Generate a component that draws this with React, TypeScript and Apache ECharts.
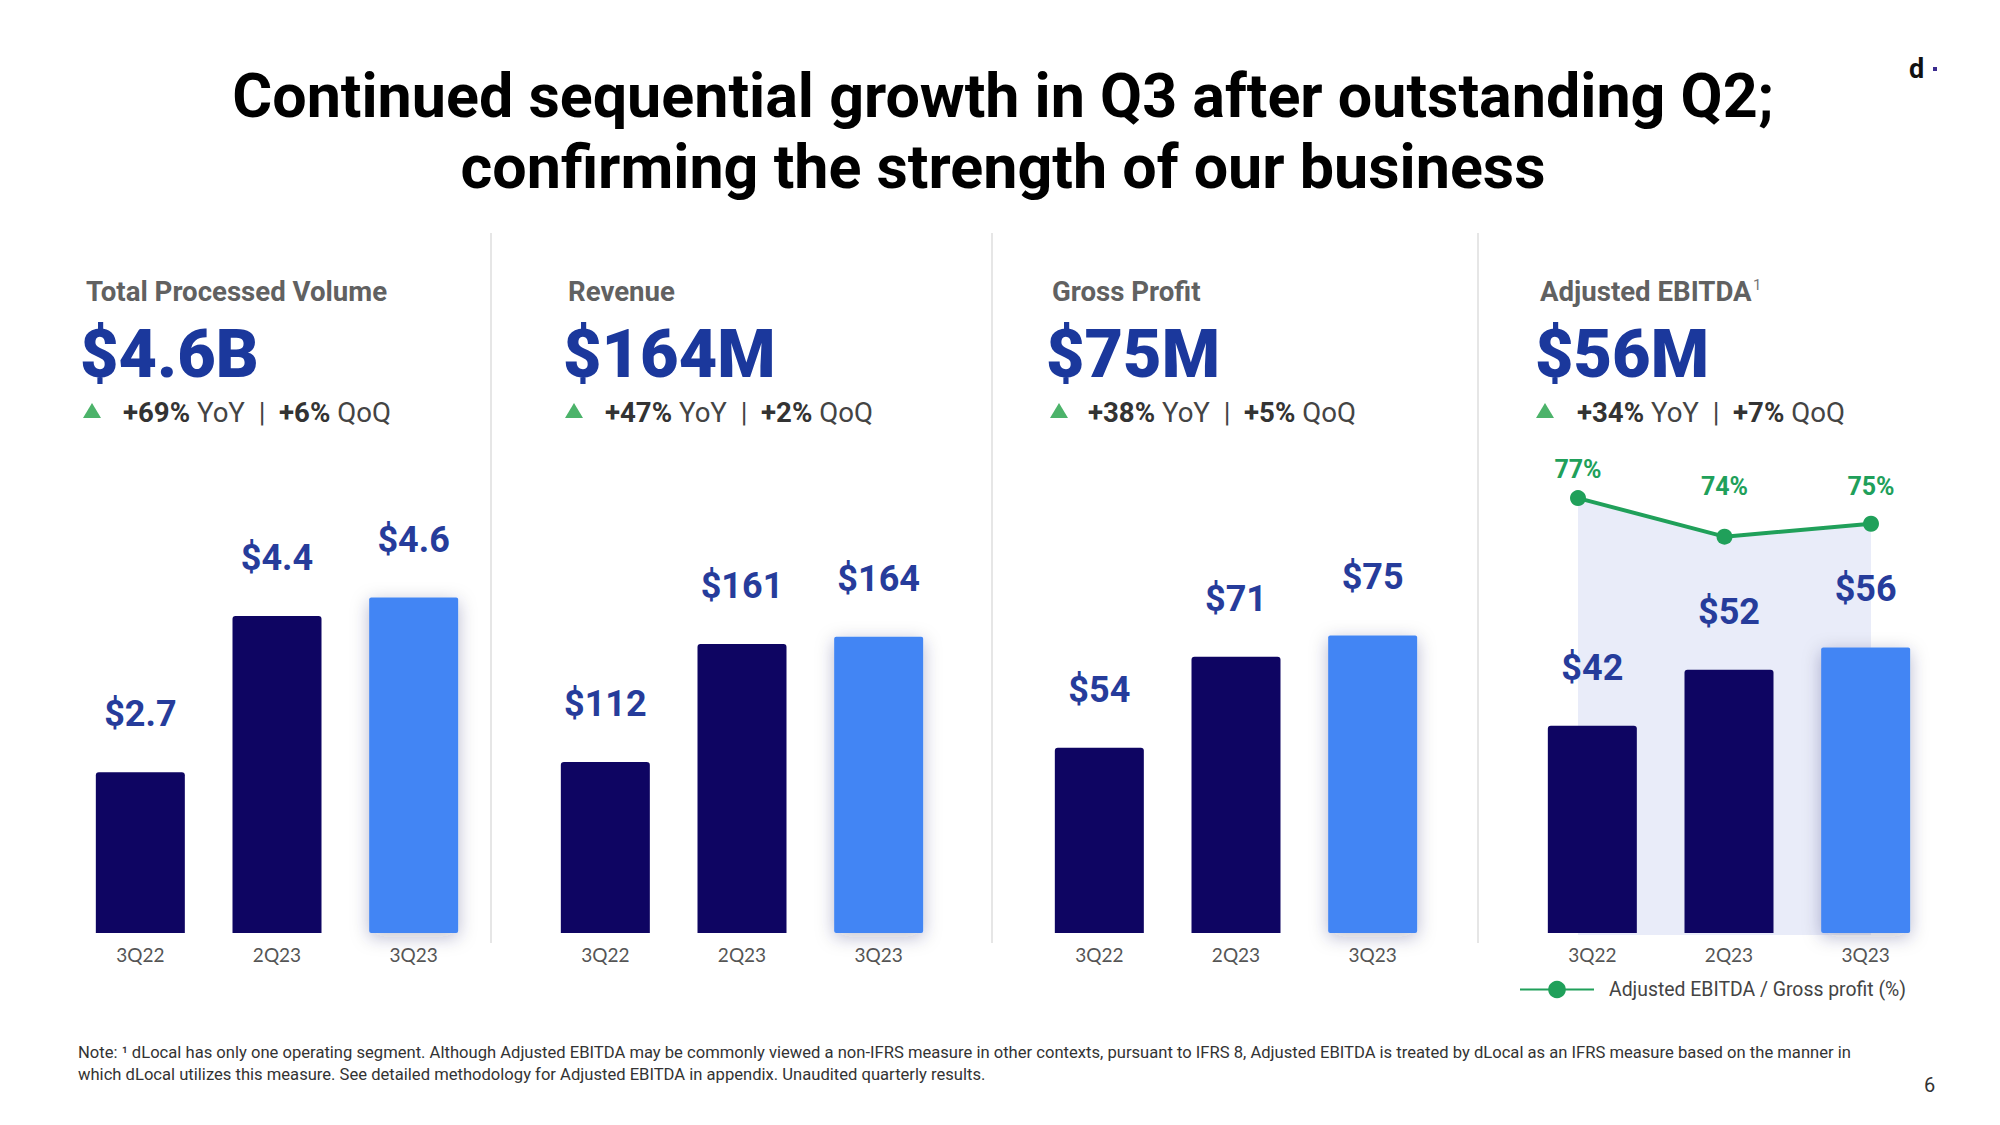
import React, { useEffect, useRef } from "react";
import * as echarts from "echarts";

// ---- data ----
const categories = ["3Q22", "2Q23", "3Q23"];
const tpvValues = [2.7, 4.4, 4.6];
const revenueValues = [112, 161, 164];
const grossProfitValues = [54, 71, 75];
const ebitdaValues = [42, 52, 56];
const ebitdaMarginValues = [77, 74, 75];

const panelTitles = ["Total Processed Volume", "Revenue", "Gross Profit", "Adjusted EBITDA"];
const headlineValues = ["$4.6B", "$164M", "$75M", "$56M"];
const yoyGrowth = ["+69%", "+47%", "+38%", "+34%"];
const qoqGrowth = ["+6%", "+2%", "+5%", "+7%"];
const legendName = "Adjusted EBITDA / Gross profit (%)";

const titleLines = [
  "Continued sequential growth in Q3 after outstanding Q2;",
  "confirming the strength of our business",
];
const noteLines = [
  "Note: \u00B9 dLocal has only one operating segment. Although Adjusted EBITDA may be commonly viewed a non-IFRS measure in other contexts, pursuant to IFRS 8, Adjusted EBITDA is treated by dLocal as an IFRS measure based on the manner in",
  "which dLocal utilizes this measure. See detailed methodology for Adjusted EBITDA in appendix. Unaudited quarterly results.",
];

// ---- layout ----
const FONT = "Roboto, 'Noto Sans', sans-serif";
const DARK = "#0E0562";
const LIGHT = "#4285F4";
const LABEL_BLUE = "#263C9B";
const HEAD_BLUE = "#1B389C";
const GREEN = "#20A05A";

const panelGridLeft = [72, 537, 1031, 1524];
const panelTextX = [86, 568, 1052, 1540];
const panelValueX = [80, 563, 1046, 1535];
const panelTriX = [92, 574, 1059, 1545];
const panelGrowthX = [123, 605, 1088, 1577];
const axisMin = [0.95, 41, 19.4, 5];
const axisMax = [6.75, 262.3, 119, 100.2];
const panelData = [tpvValues, revenueValues, grossProfitValues, ebitdaValues];

const GRID_TOP = 400;
const GRID_BOTTOM_Y = 933;

export default function App() {
  const ref = useRef<HTMLDivElement>(null);

  useEffect(() => {
    document.body.style.margin = "0";
    if (!ref.current) return;
    const chart = echarts.init(ref.current, null, { renderer: "svg" });

    const grids: any[] = [];
    const xAxes: any[] = [];
    const yAxes: any[] = [];
    const series: any[] = [];

    panelData.forEach((vals, p) => {
      grids.push({
        left: panelGridLeft[p],
        width: 410,
        top: GRID_TOP,
        height: GRID_BOTTOM_Y - GRID_TOP,
        containLabel: false,
      });
      xAxes.push({
        type: "category",
        gridIndex: p,
        data: categories,
        axisLine: { show: false },
        axisTick: { show: false },
        axisLabel: { color: "#555", fontSize: 19, fontFamily: "Lato, " + FONT, margin: 12 },
      });
      yAxes.push({
        type: "value",
        gridIndex: p,
        min: axisMin[p],
        max: axisMax[p],
        show: false,
        splitLine: { show: false },
      });
      series.push({
        type: "bar",
        xAxisIndex: p,
        yAxisIndex: p,
        barWidth: 89,
        z: 3,
        data: vals.map((v, i) =>
          i === 2
            ? {
                value: v,
                itemStyle: {
                  color: LIGHT,
                  shadowBlur: 18,
                  shadowColor: "rgba(30,40,80,0.28)",
                  shadowOffsetY: 4,
                  borderRadius: [2, 2, 2, 2],
                },
              }
            : v
        ),
        itemStyle: { color: DARK, borderRadius: [3, 3, 0, 0] },
        label: {
          show: true,
          position: "top",
          distance: 40,
          color: LABEL_BLUE,
          fontSize: 36,
          fontWeight: "bold",
          fontFamily: FONT,
          formatter: (d: any) => "$" + d.value,
        },
      });
    });

    // line grid (EBITDA margin)
    grids.push({ left: 1578, width: 293, top: 421, height: GRID_BOTTOM_Y + 2 - 421 });
    xAxes.push({
      type: "category",
      gridIndex: 4,
      data: categories,
      boundaryGap: false,
      show: false,
    });
    yAxes.push({ type: "value", gridIndex: 4, min: 43, max: 83, show: false, splitLine: { show: false } });
    const marginLabelDist = [8, 30, 17];
    series.push({
      type: "line",
      name: legendName,
      xAxisIndex: 4,
      yAxisIndex: 4,
      z: 1,
      symbol: "circle",
      symbolSize: 16,
      lineStyle: { color: GREEN, width: 4 },
      itemStyle: { color: GREEN },
      areaStyle: { color: "#E9ECF9", opacity: 1 },
      data: ebitdaMarginValues.map((v, i) => ({
        value: v,
        label: { distance: marginLabelDist[i] },
      })),
      label: {
        show: true,
        position: "top",
        color: GREEN,
        fontSize: 25,
        fontWeight: "bold",
        fontFamily: FONT,
        formatter: (d: any) => d.value + "%",
      },
    });

    const graphics: any[] = [];
    // title
    titleLines.forEach((t, i) => {
      graphics.push({
        type: "text",
        x: 1003,
        y: 96 + i * 71,
        style: {
          text: t,
          fill: "#000",
          font: `bold 61px ${FONT}`,
          textAlign: "center",
          textVerticalAlign: "middle",
        },
      });
    });
    // logo
    graphics.push({
      type: "text",
      x: 1909,
      y: 69,
      style: { text: "d", fill: "#111", font: `bold 27px ${FONT}`, textVerticalAlign: "middle" },
    });
    graphics.push({ type: "rect", shape: { x: 1933, y: 67, width: 4, height: 4 }, style: { fill: "#3B2B8F" } });

    // separators
    [491, 992, 1478].forEach((x) => {
      graphics.push({
        type: "line",
        shape: { x1: x, y1: 233, x2: x, y2: 943 },
        style: { stroke: "#E6E6E6", lineWidth: 2 },
      });
    });

    // panel headers
    panelTitles.forEach((t, p) => {
      graphics.push({
        type: "text",
        x: panelTextX[p],
        y: 291,
        style: { text: t, fill: "#616161", font: `bold 27.6px ${FONT}`, textVerticalAlign: "middle" },
      });
      graphics.push({
        type: "text",
        x: panelValueX[p],
        y: 354,
        style: { text: headlineValues[p], fill: HEAD_BLUE, font: `900 66.5px ${FONT}`, textVerticalAlign: "middle" },
      });
      graphics.push({
        type: "polygon",
        shape: {
          points: [
            [panelTriX[p], 403],
            [panelTriX[p] - 9, 418],
            [panelTriX[p] + 9, 418],
          ],
        },
        style: { fill: "#4CB36A" },
      });
      graphics.push({
        type: "text",
        x: panelGrowthX[p],
        y: 412,
        style: {
          text: `{b|${yoyGrowth[p]}}{r| YoY  |  }{b|${qoqGrowth[p]}}{r| QoQ}`,
          textVerticalAlign: "middle",
          rich: {
            b: { fill: "#333", font: `bold 27.6px ${FONT}` },
            r: { fill: "#444", font: `27.6px ${FONT}` },
          },
        },
      });
    });
    // superscript
    graphics.push({
      type: "text",
      x: 1753,
      y: 285,
      style: { text: "1", fill: "#777", font: `15px ${FONT}`, textVerticalAlign: "middle" },
    });

    // notes
    noteLines.forEach((t, i) => {
      graphics.push({
        type: "text",
        x: 78,
        y: 1052 + i * 22,
        style: { text: t, fill: "#333", font: `16.6px ${FONT}`, textVerticalAlign: "middle" },
      });
    });
    graphics.push({
      type: "text",
      x: 1924,
      y: 1085,
      style: { text: "6", fill: "#333", font: `20px ${FONT}`, textVerticalAlign: "middle" },
    });

    chart.setOption({
      animation: false,
      backgroundColor: "#fff",
      grid: grids,
      xAxis: xAxes,
      yAxis: yAxes,
      series,
      legend: {
        data: [legendName],
        left: 1514,
        top: 975,
        itemWidth: 74,
        itemHeight: 22,
        itemGap: 10,
        textStyle: { color: "#444", fontSize: 19.4, fontFamily: FONT, padding: [0, 0, 0, 10] },
        selectedMode: false,
      },
      graphic: graphics,
    });

    return () => chart.dispose();
  }, []);

  return <div ref={ref} style={{ width: 2000, height: 1125 }} />;
}
